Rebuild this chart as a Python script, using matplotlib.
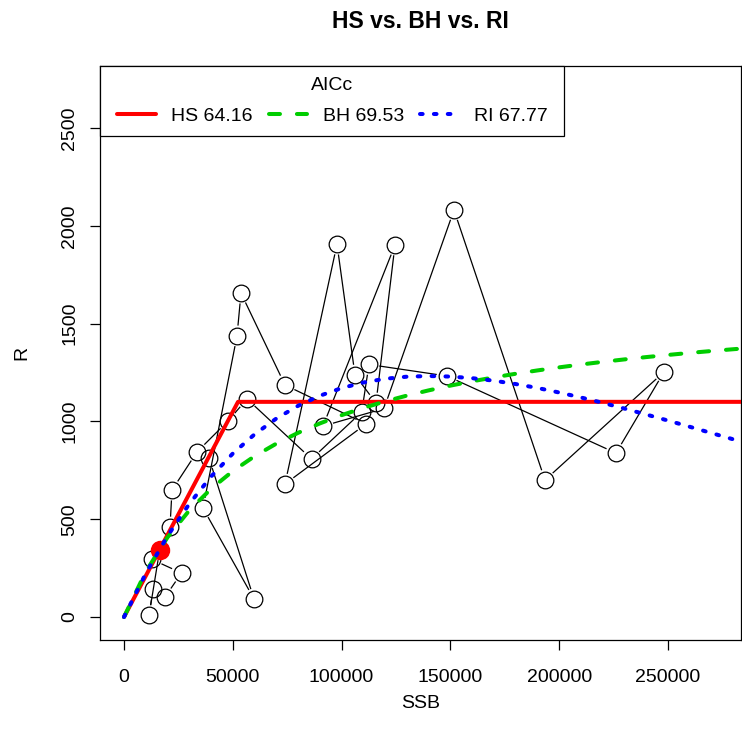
import numpy as np
import matplotlib
matplotlib.use("Agg")
import matplotlib.pyplot as plt
from matplotlib.patches import Rectangle

plt.rcParams['font.family'] = ['Liberation Sans', 'DejaVu Sans']
plt.rcParams['font.size'] = 14
plt.rcParams['lines.scale_dashes'] = False

# observed stock-recruitment pairs, in the order they are joined
ssb = [39060, 59740, 36300, 51930, 53770, 73990, 111210, 73990, 97890, 106160,
       115810, 124540, 91450, 119490, 151650, 193470, 248160, 226100, 148440, 112590,
       109240, 86170, 56530, 47790, 33550, 22060, 21140, 16410, 11490, 13330,
       18840, 26430, 12870]
recruit = [813, 92, 557, 1437, 1656, 1186, 987, 680, 1906, 1237,
           1094, 1902, 976, 1066, 2081, 700, 1253, 838, 1232, 1291,
           1048, 808, 1115, 1002, 844, 649, 460, 343, 8, 141,
           102, 225, 294]

# highlighted point (red)
hl_ssb = [16410]
hl_r = [343]

# fitted curves
hs_ssb = [0, 52400, 290000]
hs_r = [0, 1100, 1100]

grid_ssb = [0, 10000, 20000, 30000, 40000, 50000, 60000, 70000, 80000, 90000,
            100000, 110000, 120000, 130000, 140000, 150000, 160000, 170000, 180000, 190000,
            200000, 210000, 220000, 230000, 240000, 250000, 260000, 270000, 280000, 290000]
bh_r = [0, 231.9, 407.4, 544.8, 655.2, 746.0, 821.9, 886.3, 941.6, 989.7,
        1031.8, 1069.0, 1102.2, 1131.9, 1158.6, 1182.9, 1204.9, 1225.1, 1243.6, 1260.6,
        1276.3, 1290.9, 1304.4, 1317.0, 1328.8, 1339.8, 1350.2, 1359.9, 1369.0, 1377.6]
ri_r = [0, 222.3, 414.0, 578.3, 717.9, 835.7, 933.8, 1014.6, 1079.7, 1131.1,
        1170.3, 1198.9, 1217.9, 1228.6, 1232.1, 1229.2, 1221.0, 1208.1, 1191.0, 1171.0,
        1147.7, 1122.3, 1094.9, 1065.6, 1035.2, 1004.3, 972.5, 940.3, 908.3, 876.3]

models = ["HS", "BH", "RI"]
aicc = [64.16, 69.53, 67.77]

xticks = [0, 50000, 100000, 150000, 200000, 250000]
yticks = [0, 500, 1000, 1500, 2000, 2500]

W, H = 742, 735
fig = plt.figure(figsize=(W / 100, H / 100), dpi=100)
ax = fig.add_axes([99.5 / W, 1 - 640 / H, (741 - 99.5) / W, (640 - 66) / H])
ax.set_xlim(-11260, 283550)
ax.set_ylim(-117.6, 2817)

# connecting lines with gaps around the points (like R type="b")
gap = 11
pts = ax.transData.transform(np.column_stack([ssb, recruit]))
inv = ax.transData.inverted()
for i in range(len(pts) - 1):
    p0, p1 = pts[i], pts[i + 1]
    d = p1 - p0
    L = np.hypot(d[0], d[1])
    if L <= 2 * gap:
        continue
    u = d / L
    seg = inv.transform(np.array([p0 + u * gap, p1 - u * gap]))
    ax.plot(seg[:, 0], seg[:, 1], color='black', lw=0.9, zorder=2)

ax.plot(ssb, recruit, ls='none', marker='o', ms=12, mfc='none', mec='black',
        mew=0.9, zorder=3)
ax.plot(hl_ssb, hl_r, ls='none', marker='o', ms=13, color='red', zorder=4)

hs_line, = ax.plot(hs_ssb, hs_r, color='#FF0000', lw=2.9, zorder=5,
                   solid_capstyle='round', solid_joinstyle='round')
bh_line, = ax.plot(grid_ssb, bh_r, color='#00CD00', lw=2.9, zorder=6,
                   dashes=(7.9, 12.2), dash_capstyle='round')
ri_line, = ax.plot(grid_ssb, ri_r, color='#0000FF', lw=2.9, zorder=7,
                   dashes=(1.9, 8.1), dash_capstyle='round')

ax.set_xticks(xticks, labels=[str(v) for v in xticks])
ax.set_yticks(yticks, labels=[str(v) for v in yticks], rotation=90, va='center')
ax.tick_params(length=7.2, width=0.9, color='black')
ax.tick_params(axis='x', pad=14)
ax.tick_params(axis='y', pad=8)
for s in ax.spines.values():
    s.set_linewidth(0.9)

ax.set_xlabel("SSB")
ax.set_ylabel("R")
ax.xaxis.set_label_coords(0.5, (640 - 703) / 574)
ax.xaxis.label.set_va('center')
ax.yaxis.set_label_coords((22 - 99.5) / 641.5, 0.5)
ax.yaxis.label.set_va('center')
ax.yaxis.label.set_rotation_mode('anchor')

fig.text((99.5 + 741) / 2 / W, 1 - 22 / H, "HS vs. BH vs. RI", ha='center', va='center',
         fontsize=16.5, fontweight='bold')

# legend box (R-style, square corners)
ax.add_patch(Rectangle((0, 1 - 70 / 574), (564 - 99.5) / 641.5, 70 / 574,
                       transform=ax.transAxes, fill=True, facecolor='white',
                       edgecolor='black', lw=0.9, zorder=9, clip_on=False))
labels = [f"{m} {a:.2f}" for m, a in zip(models, aicc)]
leg = ax.legend([hs_line, bh_line, ri_line], labels, title="AICc", ncol=3,
                loc='upper left', bbox_to_anchor=((117 - 99.5) / 641.5, (640 - 77.5) / 574),
                borderaxespad=0, borderpad=0, frameon=False,
                handlelength=2.0, handletextpad=0.8, columnspacing=0.8,
                labelspacing=0.65, title_fontsize=14)
leg.set_zorder(10)

fig.savefig("out.png", dpi=100)
